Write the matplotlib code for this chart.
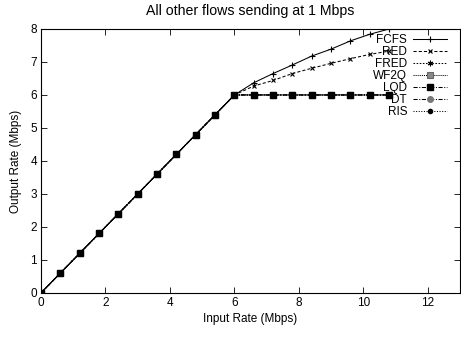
import matplotlib
matplotlib.use('Agg')
import matplotlib.pyplot as plt

# Input rate samples (Mbps)
input_rate = [0.0, 0.6, 1.2, 1.8, 2.4, 3.0, 3.6, 4.2, 4.8, 5.4, 6.0,
              6.6, 7.2, 7.8, 8.4, 9.0, 9.6, 10.2, 10.8]

# Output rate per scheme (Mbps)
fcfs = [0.0, 0.6, 1.2, 1.8, 2.4, 3.0, 3.6, 4.2, 4.8, 5.4, 6.0,
        6.37, 6.65, 6.91, 7.18, 7.39, 7.64, 7.84, 8.0]
red = [0.0, 0.6, 1.2, 1.8, 2.4, 3.0, 3.6, 4.2, 4.8, 5.4, 6.0,
       6.27, 6.44, 6.65, 6.81, 6.96, 7.10, 7.23, 7.33]
fred = [0.0, 0.6, 1.2, 1.8, 2.4, 3.0, 3.6, 4.2, 4.8, 5.4, 6.0,
        6.0, 6.0, 6.0, 6.0, 6.0, 6.0, 6.0, 6.0]
wf2q = [0.0, 0.6, 1.2, 1.8, 2.4, 3.0, 3.6, 4.2, 4.8, 5.4, 6.0,
        6.0, 6.0, 6.0, 6.0, 6.0, 6.0, 6.0, 6.0]
lqd = [0.0, 0.6, 1.2, 1.8, 2.4, 3.0, 3.6, 4.2, 4.8, 5.4, 6.0,
       6.0, 6.0, 6.0, 6.0, 6.0, 6.0, 6.0, 6.0]
dt = [0.0, 0.6, 1.2, 1.8, 2.4, 3.0, 3.6, 4.2, 4.8, 5.4, 6.0,
      6.0, 6.0, 6.0, 6.0, 6.0, 6.0, 6.0, 6.0]
ris = [0.0, 0.6, 1.2, 1.8, 2.4, 3.0, 3.6, 4.2, 4.8, 5.4, 6.0,
       6.0, 6.0, 6.0, 6.0, 6.0, 6.0, 6.0, 6.0]

plt.rcParams['font.family'] = ['Liberation Sans', 'DejaVu Sans']
plt.rcParams['font.size'] = 8.5

fig = plt.figure(figsize=(4.61, 3.37), dpi=100)
ax = fig.add_axes([0.089, 0.131, 0.909, 0.783])

lw = 0.75
ax.plot(input_rate, fcfs, color='black', lw=lw, ls='-', marker='+', ms=4, mew=0.8, label='FCFS')
ax.plot(input_rate, red, color='black', lw=lw, ls=(0, (3, 2)), marker='x', ms=3.5, mew=0.8, label='RED')
ax.plot(input_rate, fred, color='black', lw=lw, ls=(0, (1.5, 1.5)), marker=(6, 2, 0), ms=4, mew=0.8, label='FRED')
ax.plot(input_rate, wf2q, color='black', lw=lw, ls=(0, (1, 1)), marker='s', ms=4, mfc='#888888', mec='#666666', mew=0.8, label='WF2Q')
ax.plot(input_rate, dt, color='black', lw=lw, ls=(0, (4, 1.5, 1, 1.5)), marker='o', ms=4, mfc='#777777', mec='#777777', label='DT')
ax.plot(input_rate, ris, color='black', lw=lw, ls=(0, (1, 1.5)), marker='o', ms=3, mfc='black', mec='black', label='RIS')
ax.plot(input_rate, lqd, color='black', lw=lw, ls=(0, (4, 1.5, 1, 1.5)), marker='s', ms=4.5, mfc='black', mec='black', label='LQD')

ax.set_xlim(0, 13)
ax.set_ylim(0, 8)
ax.set_xticks([0, 2, 4, 6, 8, 10, 12])
ax.set_yticks([0, 1, 2, 3, 4, 5, 6, 7, 8])
ax.tick_params(direction='in', length=4, width=0.6, top=True, right=True, pad=3)
for s in ax.spines.values():
    s.set_linewidth(0.8)

ax.set_xlabel('Input Rate (Mbps)', labelpad=3)
ax.set_ylabel('Output Rate (Mbps)', labelpad=6)
ax.set_title('All other flows sending at 1 Mbps', pad=10)

handles, labels = ax.get_legend_handles_labels()
order = ['FCFS', 'RED', 'FRED', 'WF2Q', 'LQD', 'DT', 'RIS']
hmap = dict(zip(labels, handles))
leg = ax.legend([hmap[k] for k in order], order, loc='upper right',
                bbox_to_anchor=(0.975, 0.99), markerfirst=False, frameon=False,
                handlelength=2.9, handletextpad=0.5, labelspacing=0.0,
                borderpad=0.2, borderaxespad=0.0, fontsize=8.5)
# right-align the label texts against the line samples
for col in leg._legend_handle_box.get_children():
    col.align = 'right'

fig.savefig('out.png', dpi=100)
